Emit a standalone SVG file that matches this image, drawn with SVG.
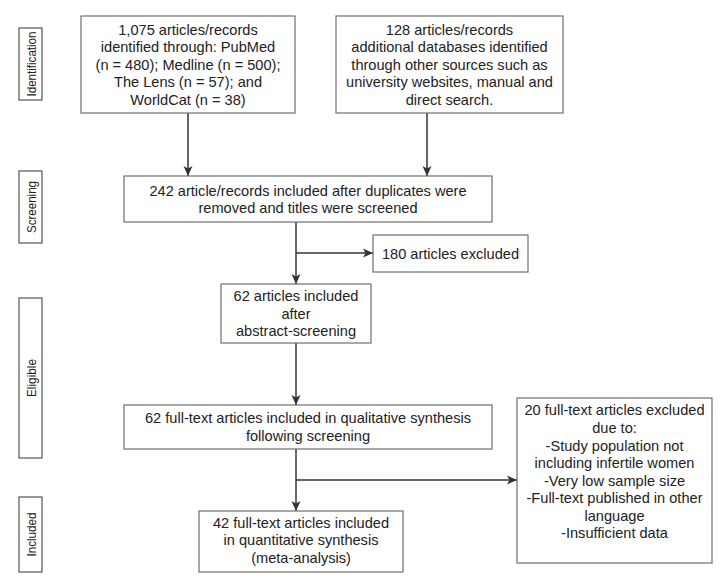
<svg xmlns="http://www.w3.org/2000/svg" width="727" height="587" viewBox="0 0 727 587">
<defs>
<style>
.box{fill:#ffffff;stroke:#6f6f6f;stroke-width:1.2}
.lbl{fill:#ffffff;stroke:#555555;stroke-width:1.2}
.t{font-family:"Liberation Sans",Arial,sans-serif;font-size:14.6px;fill:#222222;text-anchor:middle}
.lt{font-family:"Liberation Sans",Arial,sans-serif;font-size:13px;fill:#222222;text-anchor:middle}
.c{stroke:#333333;stroke-width:1.5;fill:none}
</style>
<marker id="ah" markerUnits="userSpaceOnUse" markerWidth="12" markerHeight="12" refX="10" refY="5" orient="auto">
<path d="M0,0.5 L10,5 L0,9.5 L2.5,5 Z" fill="#333333"/>
</marker>
</defs>
<rect x="0" y="0" width="727" height="587" fill="#ffffff"/>

<g id="label-identification">
<rect class="lbl" x="19" y="28" width="23" height="72"/>
<text class="lt" transform="translate(35.5,64) rotate(-90)" textLength="65" lengthAdjust="spacingAndGlyphs">Identification</text>
</g>
<g id="label-screening">
<rect class="lbl" x="19" y="171" width="23" height="72"/>
<text class="lt" transform="translate(35.5,207) rotate(-90)" textLength="52" lengthAdjust="spacingAndGlyphs">Screening</text>
</g>
<g id="label-eligible">
<rect class="lbl" x="19" y="298" width="23" height="160"/>
<text class="lt" transform="translate(35.5,378) rotate(-90)" textLength="38" lengthAdjust="spacingAndGlyphs">Eligible</text>
</g>
<g id="label-included">
<rect class="lbl" x="19" y="497" width="23" height="75"/>
<text class="lt" transform="translate(35.5,534.5) rotate(-90)" textLength="44" lengthAdjust="spacingAndGlyphs">Included</text>
</g>

<g id="connectors">
<line class="c" x1="188" y1="113" x2="188" y2="176" marker-end="url(#ah)"/>
<line class="c" x1="427" y1="113" x2="427" y2="176" marker-end="url(#ah)"/>
<line class="c" x1="296" y1="222" x2="296" y2="284" marker-end="url(#ah)"/>
<line class="c" x1="296" y1="253" x2="373" y2="253" marker-end="url(#ah)"/>
<line class="c" x1="296" y1="343" x2="296" y2="405" marker-end="url(#ah)"/>
<line class="c" x1="296" y1="449" x2="296" y2="511" marker-end="url(#ah)"/>
<line class="c" x1="296" y1="480" x2="517" y2="480" marker-end="url(#ah)"/>
</g>

<g id="node-databases">
<rect class="box" x="81" y="16" width="214" height="97"/>
<text class="t" x="188" y="34.5">1,075 articles/records</text>
<text class="t" x="188" y="52">identified through: PubMed</text>
<text class="t" x="188" y="69.5">(n = 480); Medline (n = 500);</text>
<text class="t" x="188" y="87">The Lens (n = 57); and</text>
<text class="t" x="188" y="104.5">WorldCat (n = 38)</text>
</g>

<g id="node-other-sources">
<rect class="box" x="336" y="16" width="227" height="97"/>
<text class="t" x="449.5" y="34.5">128 articles/records</text>
<text class="t" x="449.5" y="52">additional databases identified</text>
<text class="t" x="449.5" y="69.5">through other sources such as</text>
<text class="t" x="449.5" y="87">university websites, manual and</text>
<text class="t" x="449.5" y="104.5">direct search.</text>
</g>

<g id="node-screened">
<rect class="box" x="124" y="176" width="368" height="46"/>
<text class="t" x="308" y="195.5">242 article/records included after duplicates were</text>
<text class="t" x="308" y="213">removed and titles were screened</text>
</g>

<g id="node-excluded-180">
<rect class="box" x="373" y="235" width="155" height="37"/>
<text class="t" x="450.5" y="258.5">180 articles excluded</text>
</g>

<g id="node-abstract">
<rect class="box" x="221" y="284" width="150" height="59"/>
<text class="t" x="296" y="301">62 articles included</text>
<text class="t" x="296" y="318.5">after</text>
<text class="t" x="296" y="336">abstract-screening</text>
</g>

<g id="node-qualitative">
<rect class="box" x="124" y="405" width="368" height="44"/>
<text class="t" x="308" y="423">62 full-text articles included in qualitative synthesis</text>
<text class="t" x="308" y="441">following screening</text>
</g>

<g id="node-excluded-20">
<rect class="box" x="517" y="398" width="195" height="165"/>
<text class="t" x="614.5" y="415">20 full-text articles excluded</text>
<text class="t" x="614.5" y="433">due to:</text>
<text class="t" x="614.5" y="450.5">-Study population not</text>
<text class="t" x="614.5" y="468">including infertile women</text>
<text class="t" x="614.5" y="485.5">-Very low sample size</text>
<text class="t" x="614.5" y="503">-Full-text published in other</text>
<text class="t" x="614.5" y="520.5">language</text>
<text class="t" x="614.5" y="538">-Insufficient data</text>
</g>

<g id="node-quantitative">
<rect class="box" x="199" y="511" width="204" height="61"/>
<text class="t" x="301" y="527.5">42 full-text articles included</text>
<text class="t" x="301" y="545">in quantitative synthesis</text>
<text class="t" x="301" y="562.5">(meta-analysis)</text>
</g>
</svg>
